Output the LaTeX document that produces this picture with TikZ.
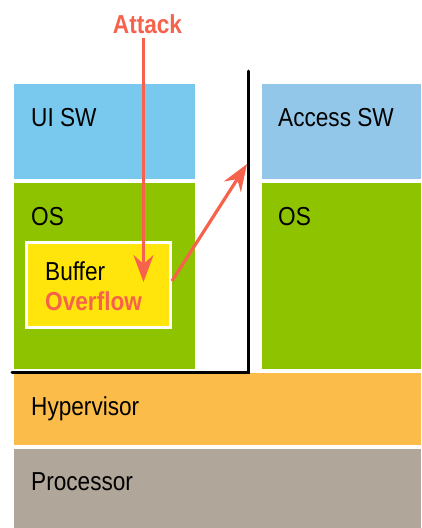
\documentclass[tikz,border=0pt]{standalone}
\usepackage{fontspec}
\setmainfont[FakeStretch=0.87]{Liberation Sans}
\usetikzlibrary{arrows.meta}
\definecolor{uiblue}{HTML}{79C9EE}
\definecolor{acblue}{HTML}{92C7E9}
\definecolor{osgreen}{HTML}{8EC300}
\definecolor{bufyellow}{HTML}{FFE50B}
\definecolor{hvorange}{HTML}{FBBC4A}
\definecolor{procgray}{HTML}{B1A69A}
\definecolor{attackred}{HTML}{F6624B}
\tikzset{
  layer/.style={draw=none, inner sep=0pt, outer sep=0pt, anchor=north west},
  lbl/.style={inner sep=0pt, anchor=base west, font=\fontsize{26}{29}\selectfont},
  attackarrow/.style={draw=attackred, line width=3.2pt, -{Stealth[length=27pt, width=20pt, inset=9pt]}},
  wall/.style={draw=black, line width=3pt, line cap=round, line join=miter}
}
\begin{document}
\begin{tikzpicture}[x=1pt, y=-1pt]
\useasboundingbox (0,0) rectangle (421,528);
% layers
\node[layer, fill=uiblue, minimum width=181pt, minimum height=95pt] (ui) at (14,84) {};
\node[layer, fill=acblue, minimum width=159pt, minimum height=95pt] (acc) at (262,84) {};
\node[layer, fill=osgreen, minimum width=181pt, minimum height=186pt] (osl) at (14,183) {};
\node[layer, fill=osgreen, minimum width=159pt, minimum height=186pt] (osr) at (262,183) {};
\node[layer, fill=hvorange, minimum width=407pt, minimum height=72pt] (hv) at (14,373) {};
\node[layer, fill=procgray, minimum width=407pt, minimum height=79pt] (proc) at (14,449) {};
% buffer box
\node[draw=white, line width=3pt, fill=bufyellow, minimum width=144pt, minimum height=85pt, inner sep=0pt, outer sep=0pt] (buf) at (98.5,285) {};
% labels
\node[lbl] (uit) at (31,126) {UI SW};
\node[lbl] (acct) at (278,126) {Access SW};
\node[lbl] (oslt) at (31,225) {OS};
\node[lbl] (osrt) at (278,225) {OS};
\node[lbl] (buft) at (45,280) {Buffer};
\node[lbl, text=attackred, font=\fontsize{26}{29}\selectfont\bfseries] (ovt) at (45,310) {Overflow};
\node[lbl] (hvt) at (31,415) {Hypervisor};
\node[lbl] (proct) at (31,490) {Processor};
\node[inner sep=0pt, anchor=base, text=attackred, font=\fontsize{26}{29}\selectfont\bfseries] (att) at (147.5,33) {Attack};
% wall
\coordinate (wtop) at (248,71);
\coordinate (wcorner) at (248,372);
\coordinate (wleft) at (12,372);
\draw[wall] (wtop) -- (wcorner) -- (wleft);
% arrows
\coordinate (a1s) at (143.5,38);
\coordinate (a1e) at (143.5,282);
\draw[attackarrow] (a1s) -- (a1e);
\coordinate (a2s) at (172,281);
\coordinate (a2e) at (247,164);
\draw[attackarrow] (a2s) -- (a2e);
\end{tikzpicture}
\end{document}
